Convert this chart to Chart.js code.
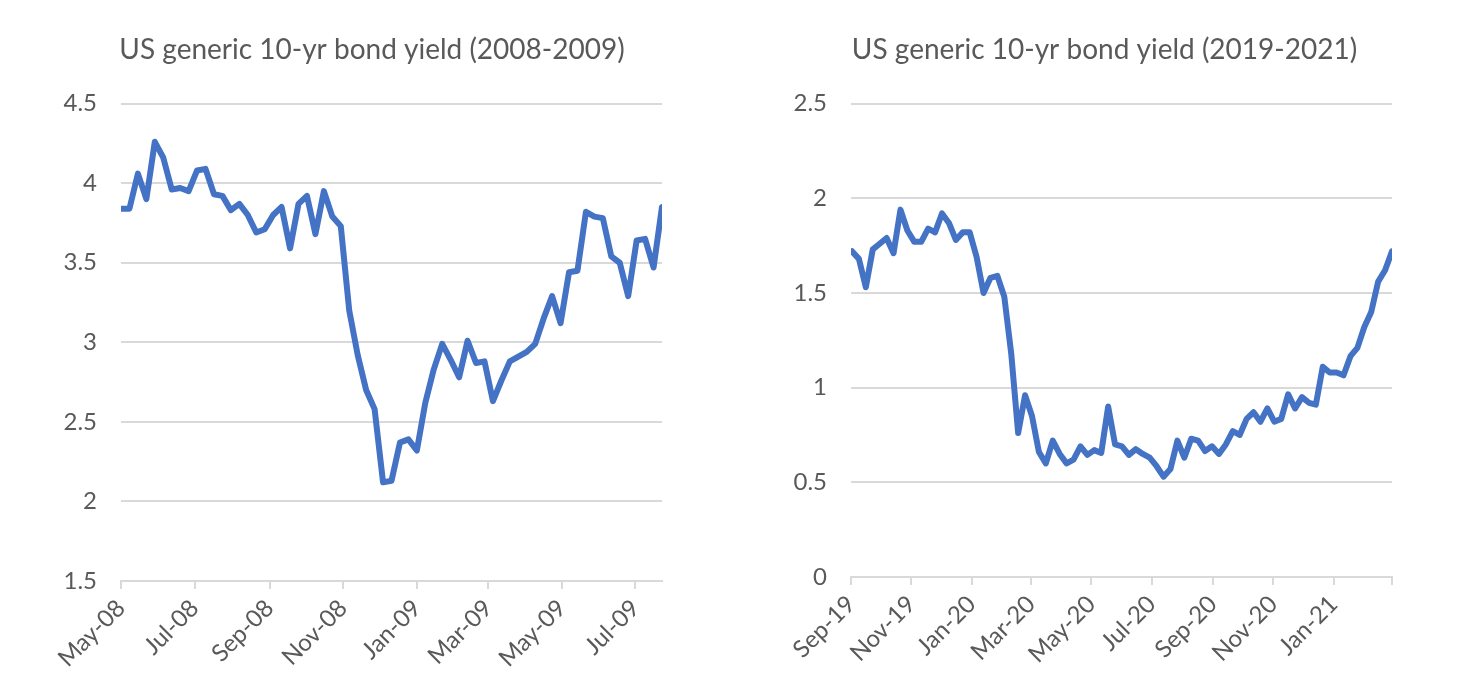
<!DOCTYPE html>
<html>
<head>
<meta charset="utf-8">
<script src="https://cdn.jsdelivr.net/npm/chart.js@4/dist/chart.umd.min.js"></script>
<style>
  html, body { margin: 0; padding: 0; background: #fff; }
  .box { position: absolute; top: 0; height: 693px; }
  #boxLeft { left: 0; width: 744px; }
  #boxRight { left: 736px; width: 737px; }
</style>
</head>
<body>
<div class="box" id="boxLeft"><canvas id="chartLeft"></canvas></div>
<div class="box" id="boxRight"><canvas id="chartRight"></canvas></div>
<script>
// weekly yields, %
const leftYields = [3.84, 3.84, 4.06, 3.90, 4.26, 4.16, 3.96, 3.97, 3.95, 4.08,
  4.09, 3.93, 3.92, 3.83, 3.87, 3.80, 3.69, 3.71, 3.80, 3.85,
  3.59, 3.87, 3.92, 3.68, 3.95, 3.79, 3.73, 3.20, 2.92, 2.70,
  2.58, 2.12, 2.13, 2.37, 2.39, 2.32, 2.62, 2.83, 2.99, 2.89,
  2.78, 3.01, 2.87, 2.88, 2.63, 2.76, 2.88, 2.91, 2.94, 2.99,
  3.15, 3.29, 3.12, 3.44, 3.45, 3.82, 3.79, 3.78, 3.54, 3.50,
  3.29, 3.64, 3.65, 3.47, 3.85];
const rightYields = [1.72, 1.68, 1.53, 1.73, 1.76, 1.79, 1.71, 1.94, 1.83, 1.77,
  1.77, 1.84, 1.82, 1.92, 1.87, 1.78, 1.82, 1.82, 1.69, 1.50,
  1.58, 1.59, 1.48, 1.18, 0.76, 0.96, 0.85, 0.66, 0.60, 0.72,
  0.65, 0.60, 0.62, 0.69, 0.645, 0.67, 0.655, 0.90, 0.70, 0.69,
  0.645, 0.675, 0.65, 0.63, 0.585, 0.53, 0.57, 0.72, 0.63, 0.73,
  0.72, 0.665, 0.69, 0.65, 0.70, 0.77, 0.75, 0.835, 0.87, 0.82,
  0.89, 0.82, 0.835, 0.965, 0.89, 0.95, 0.92, 0.91, 1.11, 1.08,
  1.08, 1.065, 1.166, 1.21, 1.32, 1.40, 1.56, 1.62, 1.72];

const leftStart = '2008-05-01';
const leftEnd = '2009-07-23';
const leftTickDates = ['2008-05-01', '2008-07-01', '2008-09-01', '2008-11-01',
  '2009-01-01', '2009-03-01', '2009-05-01', '2009-07-01'];
const leftTickLabels = ['May-08', 'Jul-08', 'Sep-08', 'Nov-08', 'Jan-09', 'Mar-09', 'May-09', 'Jul-09'];

const rightStart = '2019-09-01';
const rightFirstObs = '2019-09-02';
const rightEnd = '2021-03-01';
const rightTickDates = ['2019-09-01', '2019-11-01', '2020-01-01', '2020-03-01', '2020-05-01',
  '2020-07-01', '2020-09-01', '2020-11-01', '2021-01-01', '2021-03-01'];
const rightTickLabels = ['Sep-19', 'Nov-19', 'Jan-20', 'Mar-20', 'May-20', 'Jul-20', 'Sep-20', 'Nov-20', 'Jan-21', ''];

const DAY = 86400000;
const dayOf = (d, origin) => (Date.parse(d) - Date.parse(origin)) / DAY;

const grey = '#595959';
const gridGrey = '#d9d9d9';
const blue = '#4472c4';
const fontFam = 'Lato, "Open Sans", sans-serif';

function makeChart(id, cfg) {
  const tickDays = cfg.tickDates.map(d => dayOf(d, cfg.start));
  const firstDay = dayOf(cfg.firstObs, cfg.start);
  const points = cfg.values.map((v, i) => ({ x: firstDay + 7 * i, y: v }));
  return new Chart(document.getElementById(id), {
    type: 'line',
    data: {
      datasets: [{
        data: points,
        borderColor: blue,
        borderWidth: 6,
        borderJoinStyle: 'round',
        borderCapStyle: 'round',
        pointRadius: 0,
        tension: 0,
        fill: false
      }]
    },
    options: {
      responsive: true,
      maintainAspectRatio: false,
      animation: false,
      layout: { padding: 0 },
      plugins: {
        legend: { display: false },
        tooltip: { enabled: false },
        title: {
          display: true,
          text: cfg.title,
          color: grey,
          font: { family: fontFam, size: 28, weight: 'normal' },
          padding: { top: 33, bottom: 37 }
        }
      },
      scales: {
        x: {
          type: 'linear',
          min: 0,
          max: dayOf(cfg.end, cfg.start),
          afterBuildTicks: s => { s.ticks = tickDays.map(v => ({ value: v })); },
          afterFit: s => { s.height = cfg.xHeight; },
          border: { color: gridGrey, width: 2 },
          grid: { drawOnChartArea: false, drawTicks: true, tickLength: 8, tickColor: gridGrey, lineWidth: 2 },
          ticks: {
            autoSkip: false,
            maxRotation: 45,
            minRotation: 45,
            padding: 5,
            color: grey,
            font: { family: fontFam, size: 24 },
            callback: (v, i) => cfg.tickLabels[i]
          }
        },
        y: {
          min: cfg.yMin,
          max: cfg.yMax,
          afterFit: s => { s.width = cfg.yWidth; },
          border: { display: false },
          grid: { color: gridGrey, lineWidth: 2, drawTicks: false, tickLength: 0 },
          ticks: {
            stepSize: 0.5,
            padding: 24,
            color: grey,
            font: { family: fontFam, size: 24 },
            callback: v => String(+v.toFixed(1))
          }
        },
        // empty right-hand spacer so the title stays centred on the whole panel
        spacer: {
          type: 'linear',
          position: 'right',
          afterFit: s => { s.width = cfg.padRight; },
          border: { display: false },
          grid: { display: false },
          ticks: { display: false }
        }
      }
    }
  });
}

makeChart('chartLeft', {
  title: 'US generic 10-yr bond yield (2008-2009)',
  values: leftYields, start: leftStart, firstObs: leftStart, end: leftEnd,
  tickDates: leftTickDates, tickLabels: leftTickLabels,
  yMin: 1.5, yMax: 4.5, yWidth: 121, xHeight: 112, padRight: 82
});
makeChart('chartRight', {
  title: 'US generic 10-yr bond yield (2019-2021)',
  values: rightYields, start: rightStart, firstObs: rightFirstObs, end: rightEnd,
  tickDates: rightTickDates, tickLabels: rightTickLabels,
  yMin: 0, yMax: 2.5, yWidth: 115, xHeight: 116, padRight: 81
});
</script>
</body>
</html>
